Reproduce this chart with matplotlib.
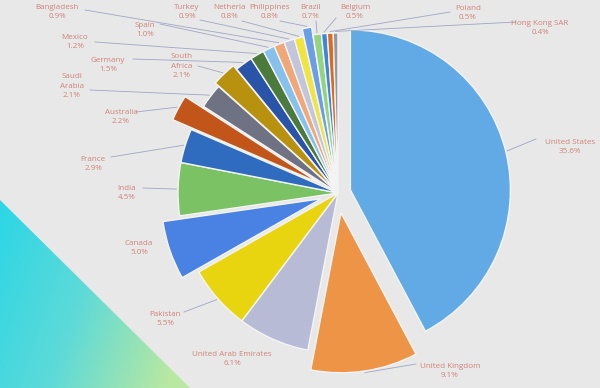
import numpy as np
import matplotlib
matplotlib.use("Agg")
import matplotlib.pyplot as plt
from matplotlib.patches import Polygon

countries = ["United States", "United Kingdom", "United Arab Emirates", "Pakistan", "Canada",
             "India", "France", "Australia", "Saudi\nArabia", "South\nAfrica", "Germany",
             "Mexico", "Spain", "Bangladesh", "Turkey", "Netherla", "Philippines", "Brazil",
             "Belgium", "Poland", "Hong Kong SAR"]
shares = [35.6, 9.1, 6.1, 5.5, 5.0, 4.5, 2.9, 2.2, 2.1, 2.1, 1.5,
          1.2, 1.0, 0.9, 0.9, 0.8, 0.8, 0.7, 0.5, 0.5, 0.4]

colors = ["#62aae6", "#ee9446", "#b7bbd6", "#e8d510", "#4a82e4", "#7ac263", "#2f6cc0",
          "#c2561a", "#6e7282", "#b8920e", "#2a54a8", "#4b7a3c", "#86c0ec", "#f0a878",
          "#c2c6dc", "#f0e440", "#6a9ee8", "#94d47c", "#3a88dc", "#e06a1c", "#9496a0"]
explode = [0.08, 0.125, 0, 0, 0.11, 0, 0, 0.13, 0, 0.03, 0,
           0, 0, 0, 0, 0, 0.05, 0, 0, 0, 0]

# label centre and leader-line end, in pixels of the 600x388 picture
label_pos = [(570, 147), (450, 371), (232, 359), (165, 319), (139, 248), (127, 193),
             (93, 164), (121, 117), (72, 86), (182, 66), (108, 65), (75, 42), (145, 30),
             (57, 12), (187, 12), (230, 12), (270, 12), (311, 12), (355, 12), (468, 13),
             (540, 28)]
line_end = [(536, 139), (416, 364), None, (184, 312), None, (143, 188), (111, 157),
            (136, 112), (90, 90), (198, 66), (133, 59), (95, 42), (160, 24), (85, 10),
            (200, 20), (242, 21), (280, 21), (316, 21), (336, 18), (450, 12), (516, 22)]

CX, CY, R = 338, 193, 160
W, H = 600, 388


def to_data(px, py):
    return (px - CX) / R, (CY - py) / R


fig = plt.figure(figsize=(6, 3.88), dpi=100, facecolor="#e8e8e8")

# background gradient triangle
ax_bg = fig.add_axes([0, 0, 1, 1], zorder=0)
ax_bg.set_xlim(0, W)
ax_bg.set_ylim(H, 0)
ax_bg.axis("off")
yy, xx = np.mgrid[0:H, 0:W]
t = np.clip((xx + 0.35 * (yy - 200)) / 230.0, 0, 1)[..., None]
c0 = np.array([0x2c, 0xd6, 0xe6]) / 255
c1 = np.array([0x5e, 0xda, 0xd8]) / 255
c2 = np.array([0xb8, 0xe8, 0xa2]) / 255
grad = np.where(t < 0.5, c0 + (c1 - c0) * (t / 0.5), c1 + (c2 - c1) * ((t - 0.5) / 0.5))
img = ax_bg.imshow(grad, extent=(0, W, H, 0), aspect="auto")
tri = Polygon([(0, 200), (0, H), (190, H)], closed=True, transform=ax_bg.transData)
img.set_clip_path(tri)

ax = fig.add_axes([0, 0, 1, 1], zorder=1)
ax.patch.set_alpha(0)
wedges, _ = ax.pie(shares, colors=colors, explode=explode, startangle=90,
                   counterclock=False, radius=1,
                   wedgeprops=dict(edgecolor="#f4f4f4", linewidth=1.0))
ax.set_aspect("auto")
ax.set_xlim(-CX / R, (W - CX) / R)
ax.set_ylim(-(H - CY) / R, CY / R)
ax.axis("off")

for w, name, val, pos, end in zip(wedges, countries, shares, label_pos, line_end):
    tx, ty = to_data(*pos)
    ax.text(tx, ty, f"{name}\n{val}%", ha="center", va="center", fontsize=5.8,
            family="Open Sans", color="#d08478", linespacing=1.5, clip_on=False)
    if end is not None:
        mid = np.deg2rad((w.theta1 + w.theta2) / 2)
        sx = w.center[0] + 1.01 * w.r * np.cos(mid)
        sy = w.center[1] + 1.01 * w.r * np.sin(mid)
        ex, ey = to_data(*end)
        ax.plot([sx, ex], [sy, ey], color="#9ea6c4", linewidth=0.6, clip_on=False)

fig.savefig("out.png", dpi=100, facecolor=fig.get_facecolor())
